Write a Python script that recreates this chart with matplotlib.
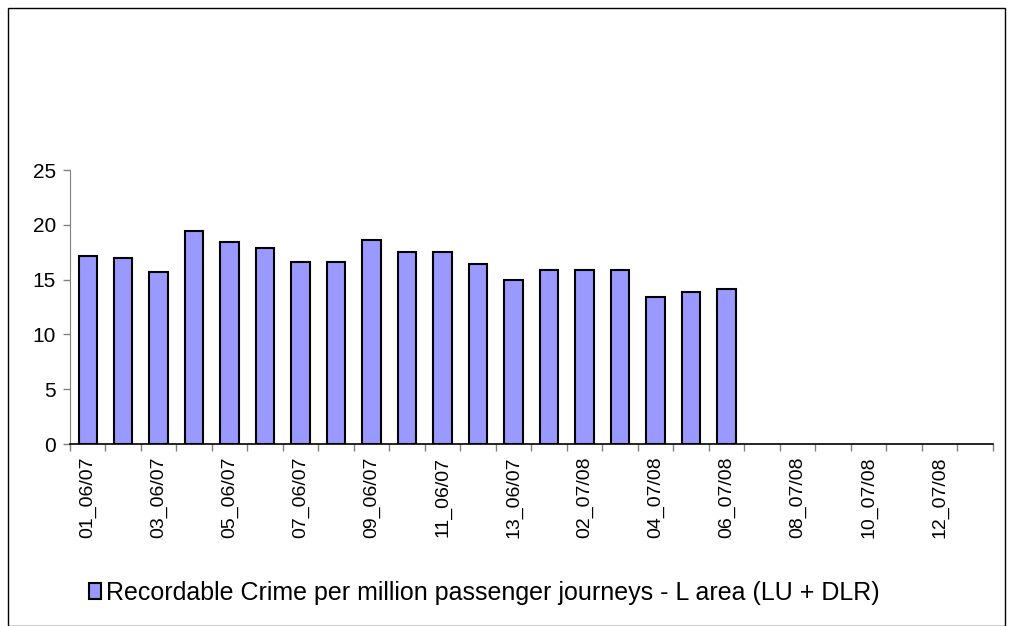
import matplotlib.pyplot as plt
import numpy as np
from matplotlib.patches import Rectangle

plt.rcParams['font.family'] = ['Liberation Sans', 'DejaVu Sans']

periods = ['%02d_06/07' % i for i in range(1, 14)] + ['%02d_07/08' % i for i in range(1, 14)]
crime_rate = [17.2, 17.0, 15.7, 19.4, 18.4, 17.9, 16.6, 16.6, 18.6, 17.5,
              17.5, 16.4, 15.0, 15.9, 15.9, 15.9, 13.4, 13.9, 14.1]
series_name = 'Recordable Crime per million passenger journeys - L area (LU + DLR)'

n = len(periods)
x = np.arange(n)

fig = plt.figure(figsize=(10.1, 6.26), dpi=100)
ax = fig.add_axes([0.0693, 0.2907, 0.9137, 0.4377])

ax.bar(x[:len(crime_rate)], crime_rate, width=0.52, color='#9999FF',
       edgecolor='black', linewidth=1.5, label=series_name)

ax.set_xlim(-0.5, n - 0.5)
ax.set_ylim(0, 25)
ax.set_yticks([0, 5, 10, 15, 20, 25])
ax.tick_params(axis='y', labelsize=15, length=5, width=1, color='#808080', pad=5)

ax.set_xticks(x[::2])
ax.set_xticklabels(periods[::2], rotation=90, fontsize=14)
ax.tick_params(axis='x', length=0, pad=9)
ax.set_xticks(np.arange(-0.5, n, 1), minor=True)
ax.tick_params(axis='x', which='minor', length=5, width=1, color='#808080')

for s in ['top', 'right']:
    ax.spines[s].set_visible(False)
ax.spines['left'].set_color('#808080')
ax.spines['bottom'].set_color('black')
ax.spines['bottom'].set_linewidth(1.2)

fig.legend(loc='center left', bbox_to_anchor=(0.088, 0.053), frameon=False,
           fontsize=18, handlelength=0.5, handleheight=0.6, handletextpad=0.2,
           borderpad=0, borderaxespad=0)

fig.patches.append(Rectangle((0.008, 0.0), 0.987, 0.988, transform=fig.transFigure,
                             fill=False, edgecolor='black', linewidth=1))

plt.savefig('out.png', dpi=100)
